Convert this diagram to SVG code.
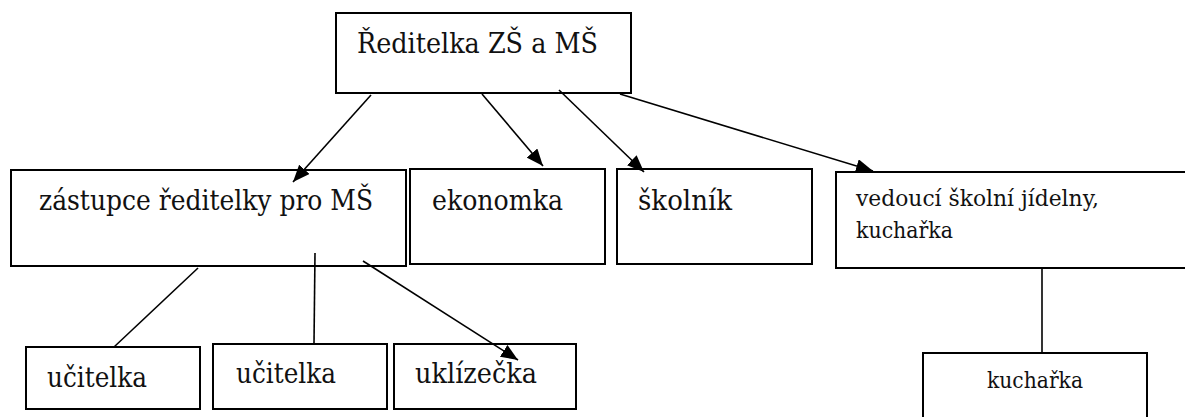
<svg xmlns="http://www.w3.org/2000/svg" width="1185" height="417" viewBox="0 0 1185 417">
<style>
.box{fill:#fff;stroke:#000;stroke-width:2}
text{font-family:'DejaVu Serif','Liberation Serif',serif;font-size:28px;fill:#111}
.s{font-size:23px}
.c{stroke:#000;stroke-width:1.6;fill:none}
</style>
<defs>
<marker id="ah" markerUnits="userSpaceOnUse" markerWidth="18" markerHeight="14" refX="17" refY="7" orient="auto">
<path d="M0,0 L17,7 L0,14 z" fill="#000"/>
</marker>
</defs>
<rect width="1185" height="417" fill="#fff"/>
<g id="n-reditelka"><rect class="box" x="336" y="13" width="295" height="80"/><text x="357" y="53" textLength="241" lengthAdjust="spacingAndGlyphs">Ředitelka ZŠ a MŠ</text></g>
<g id="n-zastupce"><rect class="box" x="11" y="170" width="395" height="96"/><text x="39" y="210" textLength="334" lengthAdjust="spacingAndGlyphs">zástupce ředitelky pro MŠ</text></g>
<g id="n-ekonomka"><rect class="box" x="410" y="169" width="195" height="95"/><text x="432" y="210" textLength="131" lengthAdjust="spacingAndGlyphs">ekonomka</text></g>
<g id="n-skolnik"><rect class="box" x="617" y="169" width="195" height="95"/><text x="638" y="210" textLength="94" lengthAdjust="spacingAndGlyphs">školník</text></g>
<g id="n-vedouci"><rect class="box" x="836" y="172" width="360" height="96"/><text class="s" x="856" y="206" textLength="243" lengthAdjust="spacingAndGlyphs">vedoucí školní jídelny,</text><text class="s" x="856" y="238" textLength="97" lengthAdjust="spacingAndGlyphs">kuchařka</text></g>
<g id="n-ucitelka1"><rect class="box" x="26" y="347" width="174" height="62"/><text x="47" y="387" textLength="100" lengthAdjust="spacingAndGlyphs">učitelka</text></g>
<g id="n-ucitelka2"><rect class="box" x="213" y="344" width="174" height="65"/><text x="236" y="383" textLength="100" lengthAdjust="spacingAndGlyphs">učitelka</text></g>
<g id="n-uklizecka"><rect class="box" x="394" y="344" width="182" height="65"/><text x="415" y="383" textLength="122" lengthAdjust="spacingAndGlyphs">uklízečka</text></g>
<g id="n-kucharka"><rect class="box" x="923" y="353" width="224" height="70"/><text class="s" x="987" y="388" textLength="96" lengthAdjust="spacingAndGlyphs">kuchařka</text></g>
<g id="connectors">
<line class="c" x1="371" y1="95" x2="293" y2="182" marker-end="url(#ah)"/>
<line class="c" x1="482" y1="94" x2="543" y2="166" marker-end="url(#ah)"/>
<line class="c" x1="559" y1="90" x2="644" y2="172" marker-end="url(#ah)"/>
<line class="c" x1="620" y1="94" x2="873" y2="171" marker-end="url(#ah)"/>
<line class="c" x1="198" y1="268" x2="114" y2="347"/>
<line class="c" x1="315" y1="253" x2="314" y2="344"/>
<line class="c" x1="363" y1="261" x2="518" y2="360" marker-end="url(#ah)"/>
<line class="c" x1="1042" y1="268" x2="1042" y2="353"/>
</g>
</svg>
